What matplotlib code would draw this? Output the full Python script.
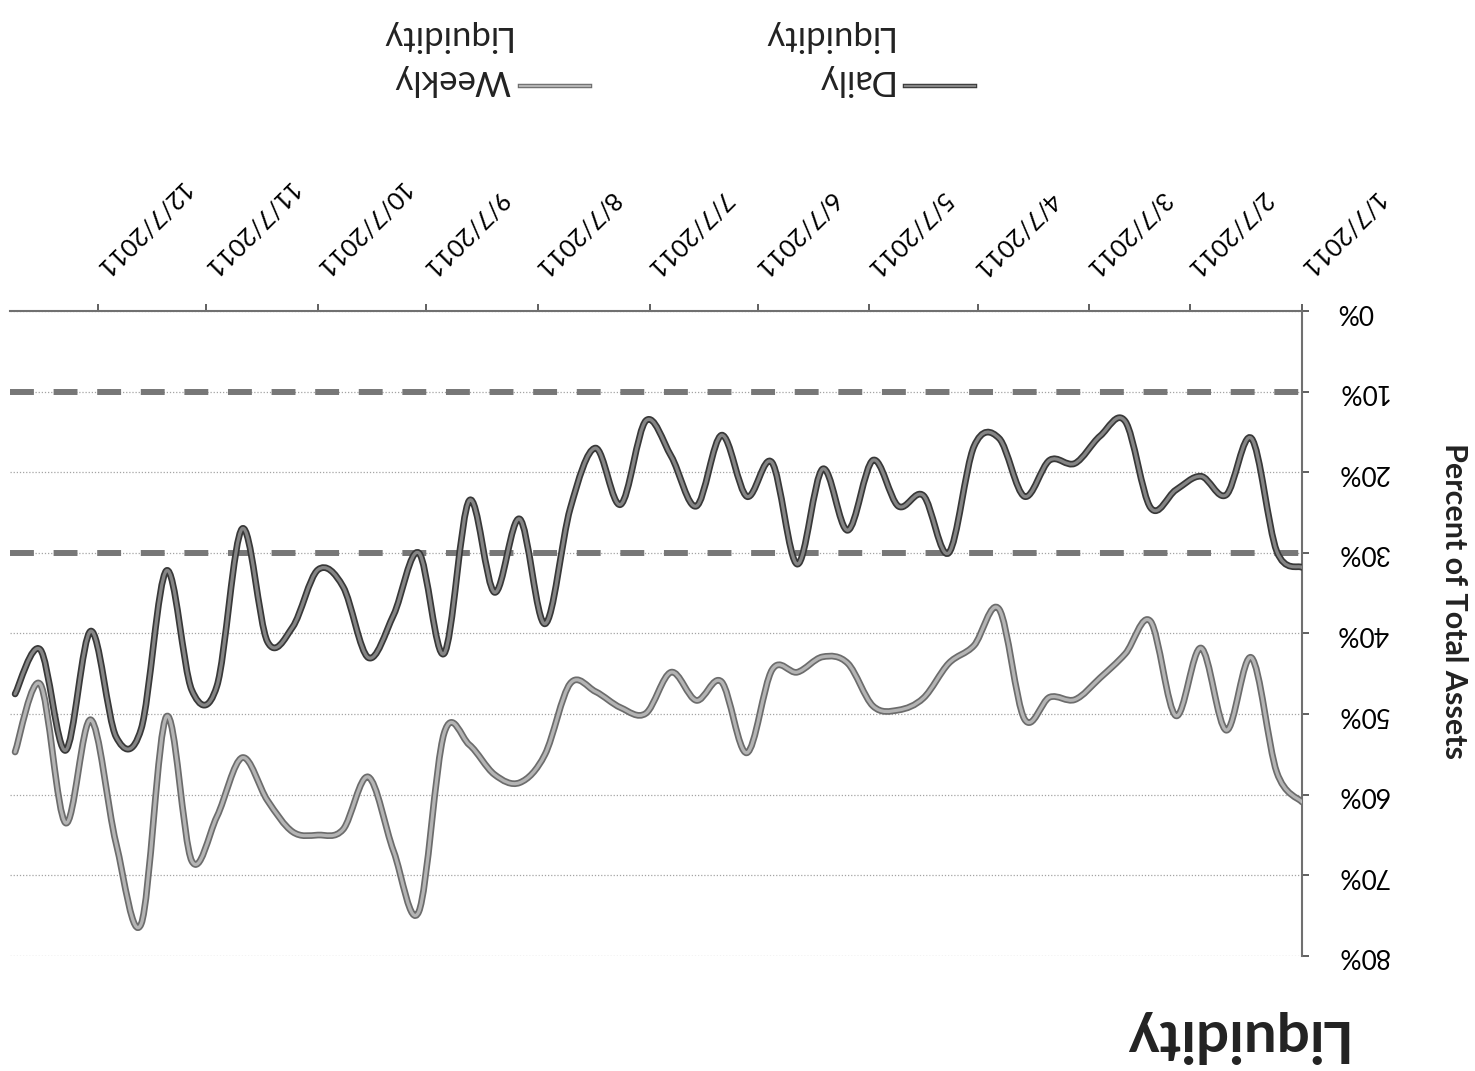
import numpy as np
import pandas as pd
import matplotlib
matplotlib.use('Agg')
import matplotlib.pyplot as plt
import matplotlib.dates as mdates
import matplotlib.patheffects as pe
from matplotlib.path import Path
from matplotlib.patches import PathPatch
from matplotlib.lines import Line2D

# weekly observations, percent of total assets
weeks = pd.date_range('2011-01-07', '2011-12-30', freq='7D')
daily_liquidity = [31.8, 29.8, 15.8, 22.8, 20.5, 22.2, 24.4, 13.7, 15.5, 18.9,
                   18.5, 23.0, 15.8, 16.8, 30.0, 22.9, 24.2, 18.5, 27.2, 19.6,
                   31.4, 18.8, 23.0, 15.4, 24.2, 18.0, 13.6, 24.0, 17.0, 24.5,
                   38.8, 25.8, 34.9, 23.5, 42.5, 30.0, 37.7, 43.0, 34.2, 32.1,
                   39.2, 41.0, 27.0, 46.5, 47.0, 32.2, 51.8, 52.8, 39.7, 54.5,
                   42.0, 47.5]
weekly_liquidity = [60.9, 57.2, 43.0, 52.0, 41.8, 50.2, 38.5, 42.5, 45.5, 48.2,
                    47.9, 50.6, 37.0, 41.5, 43.7, 48.0, 49.5, 49.0, 43.7, 42.9,
                    44.8, 44.5, 54.8, 46.0, 48.3, 44.8, 49.9, 49.2, 47.2, 46.2,
                    55.0, 58.5, 57.5, 53.8, 52.4, 74.5, 67.0, 57.8, 64.3, 65.0,
                    64.6, 60.7, 55.4, 62.7, 68.2, 50.3, 76.0, 66.0, 50.7, 63.5,
                    46.3, 54.7]
series_names = ['Daily\nLiquidity', 'Weekly\nLiquidity']
min_levels = [10, 30]

tick_dates = ['2011-01-07', '2011-02-07', '2011-03-07', '2011-04-07',
              '2011-05-07', '2011-06-07', '2011-07-07', '2011-08-07',
              '2011-09-07', '2011-10-07', '2011-11-07', '2011-12-07']
tick_labels = ['1/7/2011', '2/7/2011', '3/7/2011', '4/7/2011', '5/7/2011',
               '6/7/2011', '7/7/2011', '8/7/2011', '9/7/2011', '10/7/2011',
               '11/7/2011', '12/7/2011']
pct_ticks = [0, 10, 20, 30, 40, 50, 60, 70, 80]


def smooth_path(x, y):
    # cubic bezier through every point, like a spreadsheet "smoothed line"
    pts = np.column_stack([x, y])
    n = len(pts)
    verts = [pts[0]]
    codes = [Path.MOVETO]
    for i in range(n - 1):
        p0 = pts[max(i - 1, 0)]
        p1 = pts[i]
        p2 = pts[i + 1]
        p3 = pts[min(i + 2, n - 1)]
        verts += [p1 + (p2 - p0) / 6.0, p2 - (p3 - p1) / 6.0, p2]
        codes += [Path.CURVE4] * 3
    return Path(verts, codes)


plt.rcParams['font.family'] = ['Lato', 'DejaVu Sans']

# (inner colour, outline colour) for daily and weekly
line_colors = [('#858585', '#383838'), ('#b4b4b4', '#6c6c6c')]

fig = plt.figure(figsize=(14.75, 10.71), dpi=100)
ax = fig.add_axes([0.0068, 0.1074, 0.8759, 0.6022])

xnum = mdates.date2num(weeks)
for vals, (inner, edge) in zip([daily_liquidity, weekly_liquidity], line_colors):
    patch = PathPatch(smooth_path(xnum, np.array(vals)), fill=False,
                      edgecolor=inner, lw=2.3, zorder=3,
                      capstyle='round', joinstyle='round',
                      path_effects=[pe.Stroke(linewidth=4.8, foreground=edge),
                                    pe.Normal()])
    ax.add_patch(patch)

for lvl in min_levels:
    ax.axhline(lvl, color='#777777', lw=4.3, linestyle=(0, (4, 3.3)), zorder=2)

# everything is laid out turned half a turn
ax.set_xlim(mdates.date2num(pd.Timestamp('2011-12-31')) + 0.4,
            mdates.date2num(pd.Timestamp('2011-01-07')))
ax.set_ylim(80, 0)

ax.set_xticks(mdates.date2num(pd.to_datetime(tick_dates)))
ax.set_xticklabels(tick_labels)
ax.xaxis.tick_top()
ax.tick_params(axis='x', labelrotation=225, labelsize=18, pad=22,
               length=5, width=1.2, color='#444444')
plt.setp(ax.get_xticklabels(), rotation_mode='anchor', ha='right', va='center')

ax.set_yticks(pct_ticks)
ax.set_yticklabels(['%d%%' % p for p in pct_ticks])
ax.yaxis.tick_right()
ax.tick_params(axis='y', labelrotation=180, labelsize=19, pad=20,
               length=5, width=1.2, color='#444444')
plt.setp(ax.get_yticklabels(), va='center')

ax.yaxis.grid(True, linestyle=(0, (1, 1.5)), color='#a4a4a4', lw=0.9, zorder=1)
ax.set_axisbelow(True)
for side in ['left', 'bottom']:
    ax.spines[side].set_visible(False)
for side in ['top', 'right']:
    ax.spines[side].set_color('#707070')
    ax.spines[side].set_linewidth(1.5)

ax.yaxis.set_label_position('right')
ax.set_ylabel('Percent of Total Assets', rotation=-90, fontsize=22,
              fontweight='bold', ha='center', va='center', color='#222222')
ax.yaxis.set_label_coords(1.118, 0.55)

fig.text(1345 / 1475, 1 - 1036 / 1071, 'Liquidity', rotation=180,
         ha='right', va='center', fontsize=42, fontweight='bold', color='#222222')

# legend, drawn by hand so it can sit upside down too
legend_y = 1 - 86 / 1071
for (x0, x1, tx), name, (inner, edge) in zip([(905, 975, 892), (520, 590, 510)],
                                             series_names, line_colors):
    fig.add_artist(Line2D([x0 / 1475, x1 / 1475], [legend_y, legend_y],
                          transform=fig.transFigure, color=inner, lw=1.6,
                          path_effects=[pe.Stroke(linewidth=3.2, foreground=edge),
                                        pe.Normal()]))
    fig.text(tx / 1475, 1 - 58 / 1071, name, rotation=180, ha='right',
             va='center', multialignment='left', fontsize=25,
             linespacing=1.45, color='#222222')

fig.savefig('out.png', dpi=100, facecolor='white')
